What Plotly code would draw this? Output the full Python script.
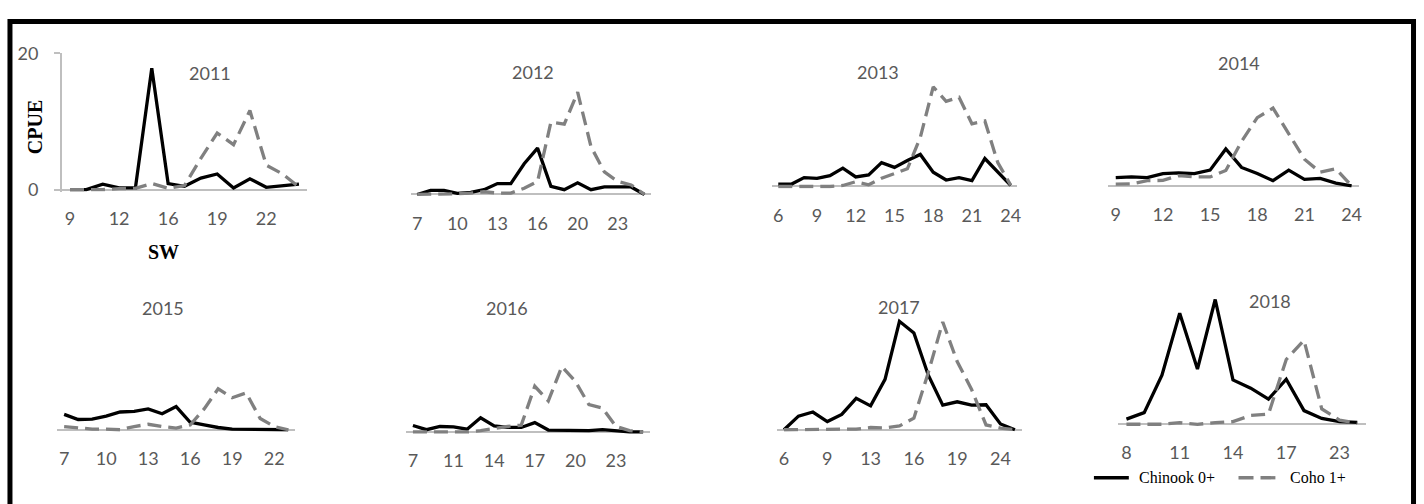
import plotly.graph_objects as go

# ---- data: sampling week (SW) and CPUE per season ----
weeks_2011 = [9, 10, 11, 12, 13, 14, 16, 17, 18, 19, 20, 21, 22, 23, 24]
chinook_2011 = [0, 0, 0.8, 0.25, 0.25, 17.8, 0.9, 0.5, 1.7, 2.3, 0.25, 1.6, 0.35, 0.55, 0.8]
coho_2011 = [0, 0, 0, 0.15, 0.2, 0.9, 0.2, 0.6, 4.6, 8.3, 6.6, 11.6, 3.6, 2.3, 0.4]

weeks_2012 = [7, 8, 9, 10, 11, 12, 13, 14, 15, 16, 17, 18, 20, 21, 22, 23, 24, 25]
chinook_2012 = [0, 0.6, 0.6, 0.15, 0.3, 0.7, 1.6, 1.6, 4.5, 6.8, 1.2, 0.7, 1.7, 0.7, 1.1, 1.1, 1.1, 0]
coho_2012 = [0, 0, 0, 0.1, 0.2, 0.4, 0.2, 0.2, 0.9, 1.9, 10.6, 10.3, 15.0, 7.0, 3.3, 1.9, 1.4, 0]

weeks_2013 = list(range(6, 25))
chinook_2013 = [0.33, 0.33, 1.3, 1.2, 1.6, 2.7, 1.4, 1.7, 3.5, 2.8, 3.8, 4.7, 2.1, 0.95, 1.3, 0.85, 4.1, 2.1, 0.15]
coho_2013 = [0, 0, 0, 0, 0, 0.15, 0.7, 0.25, 1.2, 1.9, 2.6, 7.2, 14.6, 12.5, 13.1, 9.2, 9.6, 3.5, 0.2]

weeks_2014 = list(range(9, 25))
chinook_2014 = [1.2, 1.3, 1.2, 1.8, 1.9, 1.8, 2.3, 5.4, 2.7, 1.8, 0.75, 2.3, 0.95, 1.1, 0.4, 0]
coho_2014 = [0.25, 0.3, 0.75, 0.8, 1.5, 1.3, 1.3, 2.25, 6.5, 10.0, 11.4, 7.7, 3.9, 2.0, 2.5, 0]

weeks_2015 = list(range(7, 24))
chinook_2015 = [2.25, 1.5, 1.55, 2.0, 2.6, 2.7, 3.05, 2.35, 3.4, 1.1, 0.7, 0.33, 0.1, 0.1, 0.1, 0.1, 0]
coho_2015 = [0.47, 0.25, 0.1, 0.1, 0, 0.47, 0.8, 0.47, 0.25, 0.7, 3.05, 6.0, 4.7, 5.4, 1.65, 0.47, 0]

weeks_2016 = [7, 8, 10, 11, 12, 13, 14, 15, 16, 17, 18, 19, 20, 21, 22, 23, 24, 25]
chinook_2016 = [0.94, 0.33, 0.8, 0.75, 0.4, 2.07, 0.9, 0.66, 0.66, 1.36, 0.28, 0.28, 0.28, 0.19, 0.33, 0.19, 0, 0]
coho_2016 = [0, 0, 0, 0.1, 0, 0.2, 0.56, 0.8, 1.0, 6.7, 4.55, 9.6, 7.4, 4.0, 3.5, 0.8, 0.2, 0]

weeks_2017 = [6, 7, 8, 9, 10, 11, 13, 14, 15, 16, 17, 18, 19, 21, 22, 24, 25]
chinook_2017 = [0, 2.0, 2.6, 1.2, 2.25, 4.6, 3.5, 7.4, 15.9, 14.2, 8.0, 3.6, 4.1, 3.6, 3.66, 0.85, 0]
coho_2017 = [0, 0, 0, 0, 0, 0.1, 0.33, 0.25, 0.56, 1.7, 8.4, 15.8, 10.0, 5.9, 0.7, 0.23, 0]

weeks_2018 = [8, 9, 10, 11, 12, 13, 14, 15, 16, 17, 18, 20, 23, 24]
chinook_2018 = [0.75, 1.7, 7.2, 16.3, 8.1, 18.3, 6.5, 5.3, 3.7, 6.6, 2.0, 0.85, 0.38, 0.28]
coho_2018 = [0, 0, 0, 0.23, 0, 0.23, 0.38, 1.3, 1.5, 9.5, 12.3, 2.25, 0.6, 0.14]

years = ["2011", "2012", "2013", "2014", "2015", "2016", "2017", "2018"]
weeks = [weeks_2011, weeks_2012, weeks_2013, weeks_2014,
         weeks_2015, weeks_2016, weeks_2017, weeks_2018]
chinook = [chinook_2011, chinook_2012, chinook_2013, chinook_2014,
           chinook_2015, chinook_2016, chinook_2017, chinook_2018]
coho = [coho_2011, coho_2012, coho_2013, coho_2014,
        coho_2015, coho_2016, coho_2017, coho_2018]

series_names = ["Chinook 0+", "Coho 1+"]
y_ticks = [0, 20]

# ---- page geometry (pixels) ----
W, H = 1424, 504
K = 7.1          # pixels per CPUE unit
Y_MAX = 20
Y_PAD = 0.3

# plot-area left/right edge, zero-line y, and title centre for each panel
frames = [
    dict(x0=62, x1=308, y0=185, tx=211, ty=63),
    dict(x0=411.7, x1=653, y0=190, tx=535, ty=62),
    dict(x0=774, x1=1020, y0=181.7, tx=880, ty=62),
    dict(x0=1111, x1=1363.3, y0=181, tx=1242, ty=53),
    dict(x0=57.3, x1=296, y0=435, tx=163, ty=308),
    dict(x0=407.3, x1=651.7, y0=437.3, tx=508, ty=308),
    dict(x0=779, x1=1025, y0=435, tx=902, ty=307),
    dict(x0=1120.7, x1=1370, y0=429.3, tx=1274, ty=301),
]

TICK_FONT = dict(family="Lato", size=18, color="#595959")
AXIS_GRAY = "#bfbfbf"
CHINOOK_COLOR = "#000000"
COHO_COLOR = "#808080"
LINE_W = 3.3
COHO_DASH = "14px,7px"


def px_x(x):
    return x / W


def px_y(y):
    return 1 - y / H


fig = go.Figure()
layout = {}
annotations = []

for i, (yr, wk, ch, co, fr) in enumerate(zip(years, weeks, chinook, coho, frames), start=1):
    sfx = "" if i == 1 else str(i)
    cats = [str(w) for w in wk]

    fig.add_trace(go.Scatter(
        x=cats, y=ch, mode="lines", name=series_names[0],
        line=dict(color=CHINOOK_COLOR, width=LINE_W),
        xaxis="x" + sfx, yaxis="y" + sfx, showlegend=False, hoverinfo="skip"))
    fig.add_trace(go.Scatter(
        x=cats, y=co, mode="lines", name=series_names[1],
        line=dict(color=COHO_COLOR, width=LINE_W, dash=COHO_DASH),
        xaxis="x" + sfx, yaxis="y" + sfx, showlegend=False, hoverinfo="skip"))

    top = fr["y0"] - Y_MAX * K
    bot = fr["y0"] + Y_PAD * K
    first = i == 1

    layout["xaxis" + sfx] = dict(
        type="category", categoryorder="array", categoryarray=cats,
        domain=[px_x(fr["x0"]), px_x(fr["x1"])],
        range=[-0.5, len(cats) - 0.5],
        anchor="y" + sfx,
        tickmode="array", tickvals=cats[::3], ticktext=cats[::3],
        ticks="", showgrid=False, zeroline=False, showline=False,
        tickfont=TICK_FONT, ticklabelstandoff=14,
        fixedrange=True,
    )
    layout["yaxis" + sfx] = dict(
        domain=[px_y(bot), px_y(top)],
        range=[-Y_PAD, Y_MAX],
        anchor="x" + sfx,
        showgrid=False,
        zeroline=True, zerolinecolor=AXIS_GRAY, zerolinewidth=1.5,
        showline=first, linecolor=AXIS_GRAY, linewidth=1.5,
        showticklabels=first,
        tickmode="array", tickvals=y_ticks,
        ticks="outside" if first else "", ticklen=6, tickcolor=AXIS_GRAY, tickwidth=1.5,
        tickfont=TICK_FONT, ticklabelstandoff=12,
        fixedrange=True,
    )

    annotations.append(dict(
        text=yr, xref="paper", yref="paper",
        x=px_x(fr["tx"]), y=px_y(fr["ty"]),
        xanchor="center", yanchor="middle", showarrow=False,
        font=TICK_FONT))

# axis titles on the first panel
annotations.append(dict(
    text="<b>CPUE</b>", xref="paper", yref="paper",
    x=px_x(35), y=px_y(120), textangle=-90,
    xanchor="center", yanchor="middle", showarrow=False,
    font=dict(family="Liberation Serif", size=20, color="#000000")))
annotations.append(dict(
    text="<b>SW</b>", xref="paper", yref="paper",
    x=px_x(164), y=px_y(250),
    xanchor="center", yanchor="middle", showarrow=False,
    font=dict(family="Liberation Serif", size=20, color="#000000")))

# legend entries (bottom right)
LEG_Y = 485
LEG_FONT = dict(family="Liberation Serif", size=16, color="#000000")
shapes = [
    dict(type="line", xref="paper", yref="paper",
         x0=px_x(1097), x1=px_x(1132), y0=px_y(LEG_Y), y1=px_y(LEG_Y),
         line=dict(color=CHINOOK_COLOR, width=LINE_W)),
    dict(type="line", xref="paper", yref="paper",
         x0=px_x(1242), x1=px_x(1279), y0=px_y(LEG_Y), y1=px_y(LEG_Y),
         line=dict(color=COHO_COLOR, width=LINE_W, dash="15px,7px")),
    # outer frame
    dict(type="rect", xref="paper", yref="paper",
         x0=px_x(10), x1=px_x(1417.5), y0=px_y(520), y1=px_y(10),
         line=dict(color="#000000", width=5), fillcolor="rgba(0,0,0,0)"),
]
annotations.append(dict(
    text=series_names[0], xref="paper", yref="paper",
    x=px_x(1140), y=px_y(LEG_Y), xanchor="left", yanchor="middle",
    showarrow=False, font=LEG_FONT))
annotations.append(dict(
    text=series_names[1], xref="paper", yref="paper",
    x=px_x(1292), y=px_y(LEG_Y), xanchor="left", yanchor="middle",
    showarrow=False, font=LEG_FONT))

fig.update_layout(
    width=W, height=H,
    margin=dict(l=0, r=0, t=0, b=0),
    paper_bgcolor="#ffffff", plot_bgcolor="rgba(0,0,0,0)",
    showlegend=False,
    annotations=annotations,
    shapes=shapes,
    **layout,
)

fig.write_html("out.html", config={"displayModeBar": False})
